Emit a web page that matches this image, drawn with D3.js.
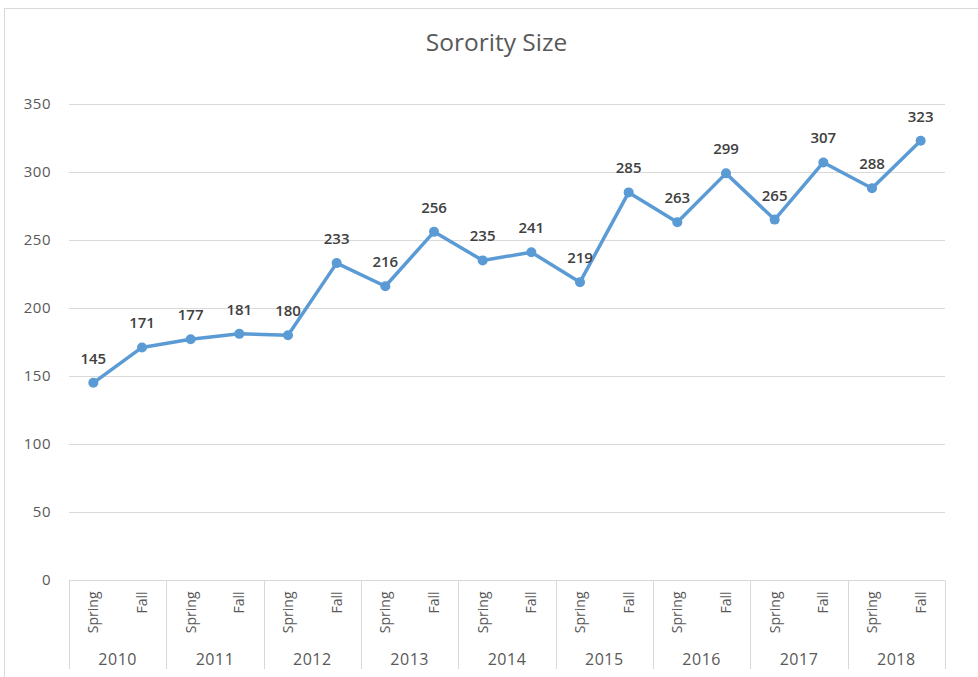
<!DOCTYPE html>
<html><head><meta charset="utf-8">
<script src="https://cdn.jsdelivr.net/npm/d3@7"></script>
<style>body{margin:0;background:#fff;} svg{display:block;}</style>
</head><body>
<svg id="c" width="978" height="677"></svg>
<script>
const years = ["2010","2011","2012","2013","2014","2015","2016","2017","2018"];
const seasons = ["Spring","Fall"];
const values = [145,171,177,181,180,233,216,256,235,241,219,285,263,299,265,307,288,323];
const yTicks = [0,50,100,150,200,250,300,350];
const title = "Sorority Size";

const svg = d3.select("#c");
const font = "'Open Sans', 'Noto Sans', sans-serif";
const W = 978, H = 677;
const m = {left:69, right:33, top:104, bottom:97};
const pw = W - m.left - m.right, ph = H - m.top - m.bottom;

const cats = [];
years.forEach(y => seasons.forEach(s => cats.push({year:y, season:s})));
const data = cats.map((c,i)=>({...c, key:c.year+"-"+c.season, v:values[i]}));

svg.append("rect").attr("x",4.5).attr("y",8.5).attr("width",1000).attr("height",700)
  .attr("fill","#fff").attr("stroke","#d9d9d9");

const x = d3.scaleBand().domain(data.map(d=>d.key)).range([m.left, m.left+pw]);
const y = d3.scaleLinear().domain([0,350]).range([m.top+ph, m.top]);

// title
svg.append("text").attr("x", 496.5).attr("y", 51).attr("text-anchor","middle")
  .attr("font-family",font).attr("font-size",24.5).attr("fill","#595959").text(title);

// gridlines
svg.append("g").selectAll("line").data(yTicks.filter(t=>t>0)).join("line")
  .attr("x1",m.left).attr("x2",m.left+pw)
  .attr("y1",d=>Math.round(y(d))+0.5).attr("y2",d=>Math.round(y(d))+0.5)
  .attr("stroke","#d9d9d9").attr("stroke-width",1);

// y axis labels
const ya = svg.append("g").attr("transform",`translate(${m.left-18},0)`)
  .call(d3.axisLeft(y).tickValues(yTicks).tickSize(0).tickPadding(0));
ya.select(".domain").remove();
ya.selectAll("text").attr("font-family",font).attr("font-size",15).attr("fill","#595959")
  .attr("letter-spacing",0.5);

// category axis
const base = Math.round(y(0))+0.5;
svg.append("line").attr("x1",m.left).attr("x2",m.left+pw).attr("y1",base).attr("y2",base)
  .attr("stroke","#d9d9d9");
const yearBounds = years.map((yr,i)=>x(yr+"-Spring")).concat([m.left+pw]);
svg.append("g").selectAll("line").data(yearBounds).join("line")
  .attr("x1",d=>Math.round(d)+0.5).attr("x2",d=>Math.round(d)+0.5)
  .attr("y1",base).attr("y2",669).attr("stroke","#d9d9d9");

const xa = svg.append("g").attr("transform",`translate(0,${base})`)
  .call(d3.axisBottom(x).tickSize(0).tickFormat(k=>k.split("-")[1]));
xa.select(".domain").remove();
xa.selectAll("text").attr("font-family",font).attr("font-size",14).attr("fill","#595959")
  .attr("transform","rotate(-90)").attr("text-anchor","end")
  .attr("x",-11).attr("y",0).attr("dy","0.35em");

svg.append("g").selectAll("text").data(years).join("text")
  .attr("x",d=>x(d+"-Spring")+x.bandwidth())
  .attr("y",665).attr("text-anchor","middle")
  .attr("font-family",font).attr("font-size",16).attr("letter-spacing",0.5)
  .attr("fill","#595959").text(d=>d);

// line
const cx = d=>x(d.key)+x.bandwidth()/2;
svg.append("path").datum(data)
  .attr("d", d3.line().x(cx).y(d=>y(d.v)))
  .attr("fill","none").attr("stroke","#5B9BD5").attr("stroke-width",3.5)
  .attr("stroke-linejoin","round");
svg.append("g").selectAll("circle").data(data).join("circle")
  .attr("cx",cx).attr("cy",d=>y(d.v)).attr("r",5).attr("fill","#5B9BD5");

svg.append("g").selectAll("text").data(data).join("text")
  .attr("x",cx).attr("y",d=>y(d.v)-19).attr("text-anchor","middle")
  .attr("font-family",font).attr("font-size",15).attr("font-weight",600)
  .attr("fill","#404040").text(d=>d.v);
</script>
</body></html>
